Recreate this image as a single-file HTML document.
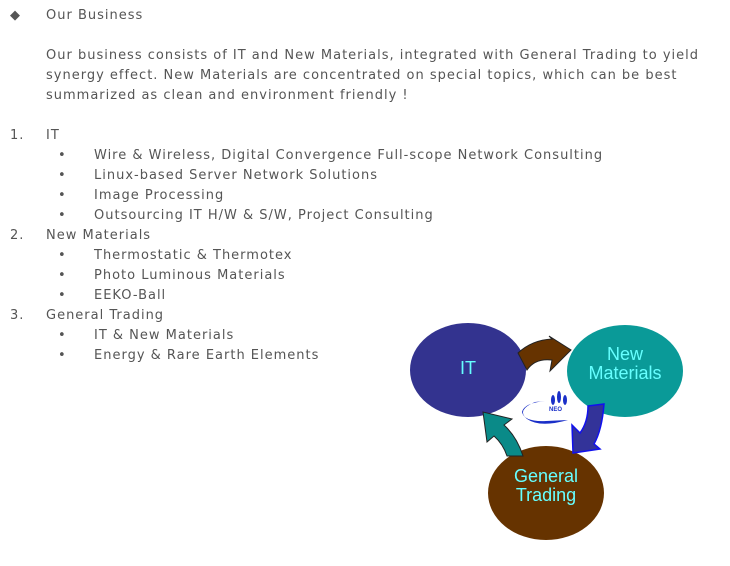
<!DOCTYPE html>
<html><head><meta charset="utf-8"><style>
body{margin:0;width:730px;height:566px;background:#fff;position:relative;overflow:hidden;font-family:"DejaVu Sans","Liberation Sans",sans-serif;font-size:13px;color:#555;}
.t{position:absolute;white-space:nowrap;line-height:20px;letter-spacing:1px;margin-top:1px;}
</style></head><body>
<div class="t" style="left:10px;top:5px;">◆</div>
<div class="t" style="left:46px;top:5px;">Our Business</div>
<div class="t" style="left:46px;top:45px;">Our business consists of IT and New Materials, integrated with General Trading to yield</div>
<div class="t" style="left:46px;top:65px;">synergy effect. New Materials are concentrated on special topics, which can be best</div>
<div class="t" style="left:46px;top:85px;">summarized as clean and environment friendly !</div>
<div class="t" style="left:10px;top:125px;">1.</div><div class="t" style="left:46px;top:125px;">IT</div>
<div class="t" style="left:58px;top:145px;">•</div><div class="t" style="left:94px;top:145px;">Wire &amp; Wireless, Digital Convergence Full-scope Network Consulting</div>
<div class="t" style="left:58px;top:165px;">•</div><div class="t" style="left:94px;top:165px;">Linux-based Server Network Solutions</div>
<div class="t" style="left:58px;top:185px;">•</div><div class="t" style="left:94px;top:185px;">Image Processing</div>
<div class="t" style="left:58px;top:205px;">•</div><div class="t" style="left:94px;top:205px;">Outsourcing IT H/W &amp; S/W, Project Consulting</div>
<div class="t" style="left:10px;top:225px;">2.</div><div class="t" style="left:46px;top:225px;">New Materials</div>
<div class="t" style="left:58px;top:245px;">•</div><div class="t" style="left:94px;top:245px;">Thermostatic &amp; Thermotex</div>
<div class="t" style="left:58px;top:265px;">•</div><div class="t" style="left:94px;top:265px;">Photo Luminous Materials</div>
<div class="t" style="left:58px;top:285px;">•</div><div class="t" style="left:94px;top:285px;">EEKO-Ball</div>
<div class="t" style="left:10px;top:305px;">3.</div><div class="t" style="left:46px;top:305px;">General Trading</div>
<div class="t" style="left:58px;top:325px;">•</div><div class="t" style="left:94px;top:325px;">IT &amp; New Materials</div>
<div class="t" style="left:58px;top:345px;">•</div><div class="t" style="left:94px;top:345px;">Energy &amp; Rare Earth Elements</div>
<svg style="position:absolute;left:0;top:0" width="730" height="566">
<g font-family="Liberation Sans, sans-serif" font-size="18" fill="#66ffff" text-anchor="middle">
<ellipse cx="468" cy="370" rx="58" ry="47" fill="#33338f"/>
<text x="468" y="374">IT</text>
<ellipse cx="625" cy="371" rx="58" ry="46" fill="#0a9a98"/>
<text x="625" y="360">New</text><text x="625" y="379">Materials</text>
<ellipse cx="546" cy="493" rx="58" ry="47" fill="#663300"/>
<text x="546" y="482">General</text><text x="546" y="501">Trading</text>
</g>
<path d="M518,353 Q532,340 552,339 L549,336 L571,350 L550,371 L552,360 Q535,358 527,370 Z" fill="#663300" stroke="#222" stroke-width="1"/>
<path d="M588,406 L604,404 Q602,430 594,444 L600,449 L573,453 L572,425 L580,433 Q588,422 588,406 Z" fill="#333399" stroke="#1111ee" stroke-width="1.5"/>
<path d="M523,456 L507,456 Q503,444 494,436 L487,442 L483,412 L512,419 L504,425 Q517,437 523,456 Z" fill="#0a8a88" stroke="#222" stroke-width="1"/>
<g fill="#1a2fc8">
<path d="M545,401 Q524,403 522,412 Q524,422 546,421 L568,420 Q540,428 527,419 Q516,410 535,402 Z"/>
<ellipse cx="553" cy="400" rx="2" ry="5"/><ellipse cx="559" cy="397" rx="2" ry="6"/><ellipse cx="565" cy="400" rx="2" ry="5"/>
<text x="549" y="411" font-size="6" font-family="Liberation Sans" font-weight="bold">NEO</text>
</g>
</svg>
</body></html>
